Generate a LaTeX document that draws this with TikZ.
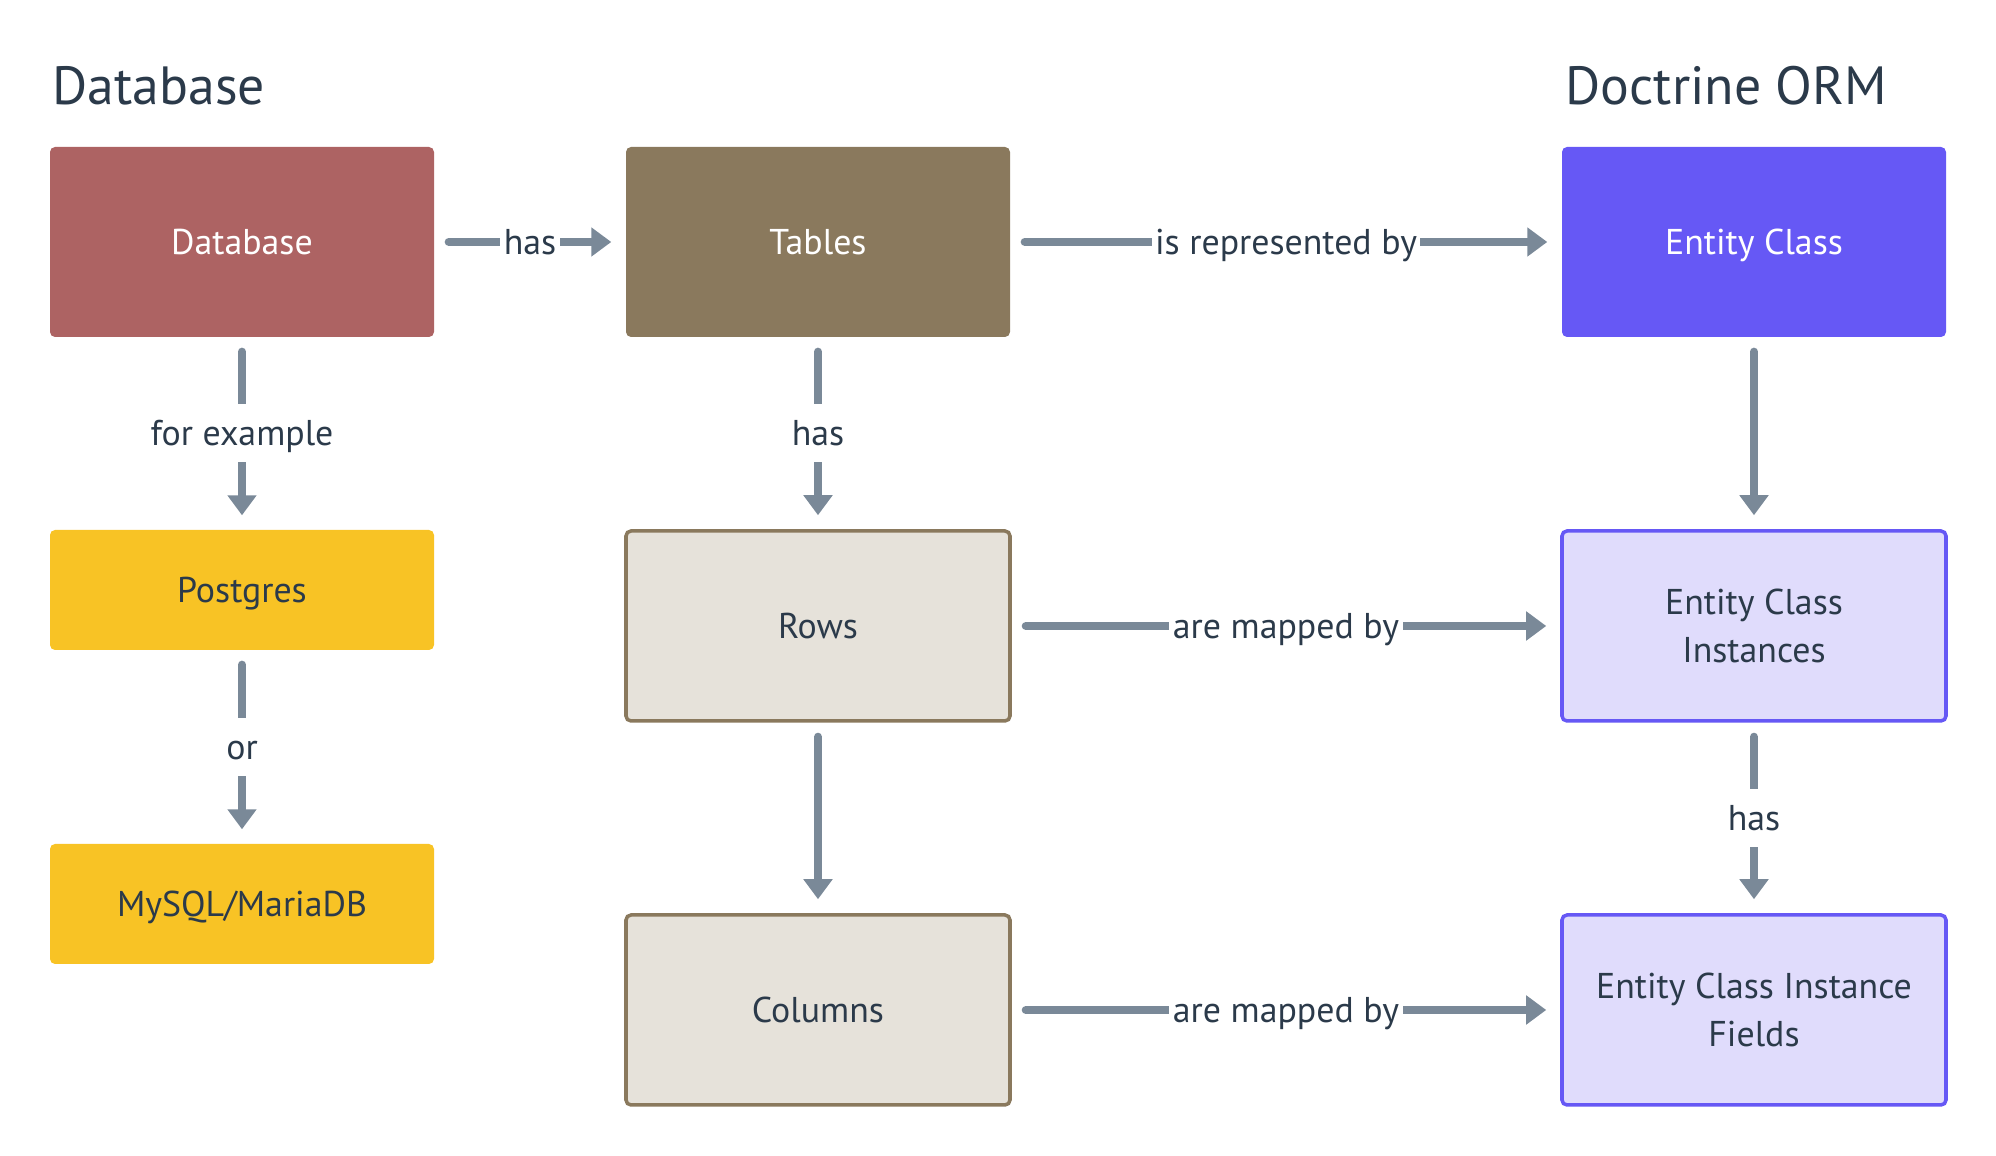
\documentclass[tikz,border=0pt]{standalone}
\usepackage{fontspec}
\setmainfont{PT Sans}
\usetikzlibrary{arrows.meta}
\usetikzlibrary{positioning}

\definecolor{dbred}{RGB}{173,99,99}
\definecolor{tablebrown}{RGB}{138,121,93}
\definecolor{rowfill}{RGB}{230,226,218}
\definecolor{ormblue}{RGB}{102,88,245}
\definecolor{ormfill}{RGB}{224,220,252}
\definecolor{pgyellow}{RGB}{248,195,37}
\definecolor{arrowgray}{RGB}{122,137,152}
\definecolor{textdark}{RGB}{43,58,74}

\begin{document}
\begin{tikzpicture}[
        box/.style={rectangle, rounded corners=0.05cm, minimum width=3.84cm, minimum height=1.9cm, inner sep=0pt, align=center, font=\fontsize{10.2}{13.4}\selectfont},
        oneline/.style={text height=7.1pt, text depth=0pt},
        solidbox/.style={box, oneline, fill=#1, text=white},
        smallbox/.style={box, oneline, fill=pgyellow, text=textdark, minimum height=1.2cm},
        lightbox/.style={box, draw=#1, line width=1pt, text=textdark},
        conn/.style={draw=arrowgray, line width=2.3pt, line cap=round, -{Triangle[length=0.2cm, width=0.28cm]}, shorten <=0.14cm, shorten >=0.14cm},
        lbl/.style={fill=white, text=textdark, inner xsep=1pt, inner ysep=2.3pt, text height=9.5pt, text depth=2.4pt, font=\fontsize{10.2}{12}\selectfont},
        title/.style={text=textdark, inner sep=0pt, anchor=base west, font=\fontsize{15.3}{18}\selectfont}
    ]
        \useasboundingbox (0,0) rectangle (19.96,-11.56);
        % headings
        \node[title] (dbtitle) at (0.52,-1.05) {Database};
        \node[title] (ormtitle) at (15.65,-1.05) {Doctrine ORM};
        % database side
        \node[solidbox=dbred] (db) at (2.42,-2.42) {Database};
        \node[smallbox] (postgres) at (2.42,-5.9) {Postgres};
        \node[smallbox] (mysql) at (2.42,-9.04) {MySQL/MariaDB};
        \node[solidbox=tablebrown] (tables) at (8.18,-2.42) {Tables};
        \node[lightbox=tablebrown, oneline, fill=rowfill] (rows) at (8.18,-6.26) {Rows};
        \node[lightbox=tablebrown, oneline, fill=rowfill] (columns) at (8.18,-10.1) {Columns};
        % orm side
        \node[solidbox=ormblue] (entity) at (17.54,-2.42) {Entity Class};
        \node[lightbox=ormblue, fill=ormfill] (instances) at (17.54,-6.26) {Entity Class\\Instances};
        \node[lightbox=ormblue, fill=ormfill] (fields) at (17.54,-10.1) {Entity Class Instance\\Fields};
        % connectors
        \draw[conn] (db) -- node[lbl] {has} (tables);
        \draw[conn] (tables) -- node[lbl] {is represented by} (entity);
        \draw[conn] (db) -- node[lbl] {for example} (postgres);
        \draw[conn] (postgres) -- node[lbl] {or} (mysql);
        \draw[conn] (tables) -- node[lbl] {has} (rows);
        \draw[conn] (rows) -- (columns);
        \draw[conn] (entity) -- (instances);
        \draw[conn] (rows) -- node[lbl] {are mapped by} (instances);
        \draw[conn] (instances) -- node[lbl] {has} (fields);
        \draw[conn] (columns) -- node[lbl] {are mapped by} (fields);
    \end{tikzpicture}
\end{document}
